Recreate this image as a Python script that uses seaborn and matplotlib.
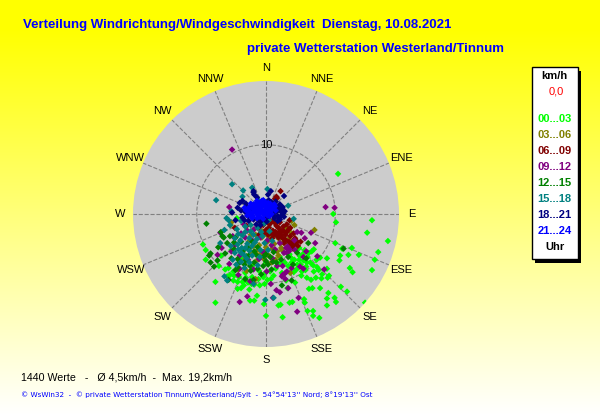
"""
Windrose scatter: Windrichtung/Windgeschwindigkeit, 10.08.2021
"""

import matplotlib

matplotlib.use("Agg")
import matplotlib.pyplot as plt
import seaborn as sns
import numpy as np
import pandas as pd

directions = ["N", "NNE", "NE", "ENE", "E", "ESE", "SE", "SSE",
              "S", "SSW", "SW", "WSW", "W", "WNW", "NW", "NNW"]
hour_labels = ["00...03", "03...06", "06...09", "09...12",
               "12...15", "15...18", "18...21", "21...24"]
hour_colors = ["#00ff00", "#808000", "#800000", "#800080",
               "#008000", "#008080", "#000080", "#0000ff"]

# Wind vectors in km/h: (toward east, toward north)
h00_03 = [(10.4,5.8),(9.7,0),(10.1,-1.2),(15.3,-.9),(14.6,-2.7),(17.6,-3.9),(10,-4.2),(12.4,-4.9),
          (16.2,-5.5),(13.4,-5.9),(11.9,-5.9),(10.7,-6),(11,-5),(10.6,-6.7),(15.7,-6.6),(15.3,-8.1),
          (12.1,-7.8),(12.5,-8.4),(10.8,-10.5),(11.7,-11.2),(14.3,-12.8),(9.9,-12.1),(10.1,-12.7),
          (8.8,-12.2),(8.8,-13.2),(9,-11.4),(7.8,-10.7),(6.7,-10.7),(6.2,-10.8),(7.7,-15),(6.8,-14.7),
          (6.8,-14),(6,-14),(5.5,-12.3),(5.6,-12.8),(3.8,-12.7),(3.4,-12.8),(2.1,-13.1),(1.8,-13.2),
          (2.4,-14.9),(0,-14.7),(-.3,-13),(-7.3,-12.8),(-7.3,-9.8),(-9.1,-4.4),(-8.7,-5.2),(-8.7,-6.6),
          (-4.1,-10.8),(-3.6,-10.7),(-4.7,-9.6),(-4.1,-9.8),(-3.4,-9.8),(-5.9,-8),(-4.7,-8.3),
          (-2.3,-12.5),(-1.7,-12.5),(-1.3,-11.8),(-2.4,-10.9),(-1.7,-10.2),(-.4,-9.1),(1.1,-8.9),(.2,-9.5),
          (8.8,-6.4),(7.8,-6.3),(7.4,-7.7),(7.6,-8.1),(8.1,-8.7),(7.2,-9.2),(8,-9.3),(8.9,-9.2),(9.1,-8.9),
          (8.8,-7.9),(6.5,-9.5),(5.7,-8.1),(5.2,-8.3),(6.4,-7),(5.9,-7),(6.6,-5.4),(6.2,-5.6),(5.6,-5.2),
          (4.4,-5.3),(4.9,-6.1),(5.4,-6.7),(3.7,-7),(4.4,-8),(4,-8.4),(3.2,-7.5),(6.9,-5.1),(6,-6.2),
          (5,-7.3),(4.5,-7.3),(5.8,-7.6),(2.9,-9.6),(2.3,-8.5),(1.4,-7.9),(-2,-9.1),(-3,-8.5),(-1,-8.2),
          (4.2,-9.9),(3.1,-10.7),(6.9,-8.3),(-6.5,-6),(-5,-5.2),(-3.5,-6.5),(-6.8,-7.5),(-2,-7.5),
          (0,-7),(1,-6.5),(2,-6.2),(-5.6,-9),(-2.9,-9.2),(.6,-8.3),(3.4,-5.8),(4.8,-4.9),(-4.2,-.6),
          (-5.4,-7.8),(-3.9,-9.1),(-2.6,-9.9),(-1.1,-9.4),(-.2,-8.6),(1.9,-7.2),(2.7,-7),(3.6,-6.3),
          (4.1,-6.6),(4.8,-6.6),(5.3,-5.8),(5.1,-8.9),(5.9,-9.2),(6.8,-7.4),(7.3,-6.6),
          (-4.6,-8.9),(-3.2,-10.3),(-2.1,-10.1),(-.9,-10.3),(-.2,-10.1),(.7,-9.4),(-5.2,-8.8)]
h03_06 = [(7,-2.3),(4.1,-1.6),(3.7,-1),(3.6,-2.7),(3.5,-8.5),(-5,-1.2),(-5.1,-1.6),(-1.5,-3),(-.5,-2.5),
          (.5,-3.5),(1.5,-2.8),(2.5,-3.3),(3,-2),(-2.5,-4),(-1,-4.5),(0,-4.8),(1.2,-4.3),(2.2,-4.9),
          (3.2,-4.2),(-3.5,-5),(-2,-5.6),(-.8,-5.8),(.4,-6),(1.8,-6),(-3,-6.5),(-1.4,-6.8),(.8,-7),
          (-4,-8),(-2.8,-8.2),(-1.5,-9.4),(-1.8,-10),(2.3,-5.2),(3.3,-3.6),(-1.2,-5.2),(-2.2,-3),
          (-.6,-3.4),(.2,-4),(.9,-5),(1.6,-5.4),(-.2,-5.4),(2.7,-4),(1.9,-3.6),(-1.8,-4.6),(-.4,-6.4),
          (1.4,-6.6),(.1,-3),(1.1,-3.2),(2.1,-4.2),(-2.6,-4.8)]
h06_09 = [(2.1,3.3),(1.5,2.5),(1.3,2.2),(1.6,2.3),(-4.5,-2),(0,-1),(-.4,-1.6),(.5,-1.5),(1,-1),(-1,-2),
          (0,-2.3),(1,-2.4),(1.5,-1.7),(2,-1.2),(2.5,-1.8),(3,-1.5),(3.3,-2.2),(1.5,-3),(2.2,-3),(2.8,-3),
          (3.5,-3.2),(4,-2.8),(4.2,-3.5),(3.3,-4),(3.7,-4.4),(4.5,-4),(5,-4),(3.9,-5),(2.6,-2.5),(2,-2.5),
          (-1,-3),(.3,-3),(2.8,-3.7),(4.6,-4.6),(3.4,-.9),(3.5,-2),(-2.8,-1.7),(1.8,-2),(3,-2.6),(.9,-3.5),
          (-.2,-.8),(.3,-.6),(.7,-1.2),(-.7,-1.2),(1.3,-1.3),(1.8,-2.9),(1.4,-2.6),(1.1,-3),(2.4,-3.5),
          (1.8,-3.4),(2.3,-2.4),(.4,-2),(-.3,-2.8),(3.9,-3.9),(4.1,-4.4),(3.5,-4.6),(.6,-2.8),(2.6,-4.2)]
h09_12 = [(-4.9,9.3),(8.6,1),(9.9,.9),(-5.3,1),(-6.6,-2.7),(-7,-5.9),(-6.4,-4.9),(7.1,-4.2),(5.6,-3.5),
          (5.1,-2.7),(4.5,-2.6),(6.5,-2.7),(7.4,-6.1),(8.4,-8),(5.4,-6.2),(-3.8,-12.7),(-2.7,-11.9),
          (4.5,-14.1),(4.7,-12.1),(1,-12.1),(1.5,-11),(2,-11.3),(3.2,-10.7),(.7,-10.1),(2.3,-9),(2.8,-9.4),
          (-4,-8.8),(-2.3,-9.7),(3,-5.6),(-3.2,-1.5),(-3.6,-2.8),(-4.8,-3.2),(-2,-3.8),(-.8,-3.4),(.8,-4.5),
          (2,-4.2),(3.1,-4.7),(4.2,-5.2),(-5,-5.4),(-3.8,-6),(-2.6,-6.6),(-1,-6.5),(.9,-6.4),(2.4,-7.5),
          (3.7,-7.8),(4.9,-7.6),(-5.3,-7.2),(-3.8,-7.9),(-1.8,-8),(.1,-8.3),(1.6,-7.5),(3,-8.3),(-4.5,-4.5),
          (5.8,-5.4),(4.1,-3.8),(3.4,-5.1),(2.6,-5.6),(5.4,-7.9),(2.9,-4.9),(3.3,-5.4),(2.4,-8.8),(2.7,-8.6),
          (-1.7,-2.2),(-2.7,-2.4),(.2,-3.8),(-.4,-5.5),(-3,-3.4),(1.3,-5.1)]
h12_15 = [(-8.6,-1.4),(11.2,-5),(6.1,-4.2),(-8,-5.7),(-8.2,-6),(-7.5,-7.6),(-8,-7),(-7,-6.7),(-6.9,-4.8),
          (-5.9,-5.7),(-5.4,-9.5),(-3,-9.4),(-4.4,-8.1),(-1.8,-9.5),(2.3,-10.3),(3.7,-9.6),(5.8,-6.4),
          (3.9,-7.3),(.8,-8),(-.4,-7.5),(-2.8,-6.1),(-5.2,-3.2),(-6.1,-3.4),(-6.3,-3.2),(-5.6,-4.2),(-4.6,-5.1),
          (-3.6,-4),(-2.5,-5),(-1.2,-4.8),(0,-5.8),(1.1,-5.5),(2.2,-6.6),(-4.1,-6.5),(-3.1,-7.3),(-1.7,-7),
          (0,-6.8),(1.5,-7),(-5,-6.4),(-2.2,-8.2),(-.7,-8.7),(.6,-6.2),(-3.4,-5.6),(-4.4,-3.4),(-2,-4),
          (4.5,-5.6),(3.2,-6.2),(-6.5,-2.6),(-1.4,-5.9),(-3.8,-7),(-2.9,-6.7),(-2.3,-7.5),(-1.2,-7.9),(-.3,-6.1),
          (.3,-7.3),(1,-6.9),(-3.2,-5.2),(-4.6,-4.1),(-2.5,-6),(-1.7,-5.4),(-4.1,-7.7)]
h15_18 = [(-4.9,4.3),(-7.2,2),(-3.3,3.4),(-3.4,2.5),(-2,3.8),(.2,3.6),(3.2,1.2),(4,-.7),(-5.7,-.6),(-5.4,-.9),
          (-6,-2.3),(-6.6,-4.2),(-6,-9),(-5.6,-9.6),(-.1,-12.4),(1.1,-12.1),(-1.8,-10.1),(-3.6,-1),(-3,-1.8),
          (-4.2,-2.2),(-2.2,-2.5),(-1.2,-2),(-.5,-3.2),(.5,-2.5),(-4.5,-3.5),(-3.4,-3.1),(-2.4,-3.5),(-1.3,-3.6),
          (-.2,-4.2),(.9,-3.9),(-5.1,-4.6),(-4.1,-4.4),(-3,-4.9),(-2,-4.6),(-.8,-5.2),(.3,-5.2),(-4.5,-5.6),
          (-3.2,-5.9),(-2,-6),(-.9,-6.2),(-4.8,-6.6),(-3.6,-6.9),(-2.4,-7),(-1.2,-7.4),(-4.3,-7.3),(-5.2,-1.6),
          (-.3,-1.4),(.4,-.9),(1.5,.9),(-1.1,2),(-5,.4),(-3.1,-7.8),(-4,-2.9),(-3,-2.6),(-3.7,-3.8),(-2.7,-4.3),
          (-3.5,-4.9),(-2.4,-5.3),(-4,-5.1),(-3.6,-5.6),(-2.8,-6.4),(-1.6,-4.1),(-.7,-2.6),(-1.8,-3),(-2.2,-1.6)]
h18_21 = [(.7,3.3),(2.6,2.6),(.3,2.8),(-1.8,3.3),(-1.7,2.8),(-1.8,3.1),(-3.8,1.6),(-4.1,.9),(-4.9,.2),(-2.8,1.1),
          (-3,.3),(-2.6,-.3),(1.5,1.1),(2.5,.1),(2,-.8),(1.4,.3),(2.3,.8),(1.7,-.3),(2.6,-.4),(.8,1.7),(1.4,1.8),
          (2,1.4),(-1.4,-1.5),(-1.8,-.8),(-.6,-.9),(.2,-.4),(1,-.2),(-3.4,1.9),(-2.2,.6),(-3.4,-.5),(-4.4,-.9),
          (-1.3,2.4),(2.7,.4),(2.1,.4),(1.2,.9),(-1,-1),(.4,2),(2.4,1),(1.9,.9),(1.6,.4),(2.2,-.3),(1.2,-.6),
          (.7,1.1),(-.2,1.5),(.9,.2),(-2.5,-1),(-3.1,-.9),(-2.9,1.5),(-3.6,.5),(-.8,-1.6),(.1,-1.1),(1.7,-1)]
h21_24 = [(-2.9,.5),(-2.4,1),(-2.2,.2),(-2.7,-.2),(-1.8,1.4),(-1.6,.6),(-1.3,1.9),(-1.2,1),(-1.4,.1),(-1.9,-.3),
          (-.8,1.6),(-.7,.9),(-.8,.2),(-.9,-.4),(-.2,1.8),(-.1,1.2),(-.2,.5),(-.3,-.1),(.3,1.6),(.4,1),(.3,.3),
          (.2,-.2),(.8,1.3),(.9,.7),(.8,0),(1.2,1.4),(-2,-.6),(-1.3,-.6),(-.4,-.7),(-3.1,.9),(-2.2,1.5),(-1.5,1.5),
          (1.4,.5),(-.4,2),(.6,.5),(-1,1.3),(-2.6,.6),(-2,.9),(-1.9,.2),(-1.1,.5),(-.5,1.3),(.1,.8),(.6,1.5),
          (1,1),(1.3,1.1),(-1.6,1.1),(-.5,.4),(0,.1),(.5,-.3),(-1.1,-.2),(-2.3,-.2),(-.6,1.9),(.7,.9)]
hour_points = [h00_03, h03_06, h06_09, h09_12, h12_15, h15_18, h18_21, h21_24]

ring_kmh = 10
max_kmh = 19.2

rows = []
for label, points in zip(hour_labels, hour_points):
    for east, north in points:
        rows.append((label, east, north))
df = pd.DataFrame(rows, columns=["hours", "east", "north"])
df["theta"] = np.arctan2(df["east"], df["north"])
df["speed"] = np.hypot(df["east"], df["north"])

fig = plt.figure(figsize=(6.0, 4.15), dpi=100)
plt.rcParams["font.family"] = ["Liberation Sans", "DejaVu Sans"]

# Full-figure layer in pixel coordinates: gradient background and all loose text
bg = fig.add_axes([0, 0, 1, 1])
blue = np.clip((np.linspace(0, 415, 415) - 30) / 385, 0, 1)
gradient = np.ones((415, 1, 3))
gradient[:, 0, 2] = blue
bg.imshow(gradient, extent=(0, 600, 415, 0), aspect="auto")
bg.set_xlim(0, 600)
bg.set_ylim(415, 0)
bg.axis("off")

title_style = dict(color="#0000ff", fontweight="bold", fontsize=9.5, va="center")
bg.text(23, 25, "Verteilung Windrichtung/Windgeschwindigkeit  Dienstag, 10.08.2021", **title_style)
bg.text(247, 49, "private Wetterstation Westerland/Tinnum", **title_style)
bg.text(21, 377, "1440 Werte   -   Ø 4,5km/h  -  Max. 19,2km/h", fontsize=7.7, color="black", va="center")
bg.text(21, 394.5, "© WsWin32  -  © private Wetterstation Tinnum/Westerland/Sylt  -  54°54'13'' Nord; 8°19'13'' Ost",
        fontsize=5.25, color="#0000ff", va="center", family=["DejaVu Sans"])

# Legend box with shadow
bg.add_patch(plt.Rectangle((535, 71), 46, 192, facecolor="black", edgecolor="none"))
bg.add_patch(plt.Rectangle((531.5, 67), 46, 192, facecolor="white", edgecolor="black", linewidth=1))
bg.text(554.5, 76, "km/h", ha="center", va="center", fontweight="bold", fontsize=8)
bg.text(556, 92, "0,0", ha="center", va="center", color="#ff0000", fontsize=8)
legend_y = 119
for label, color in zip(hour_labels, hour_colors):
    bg.text(554.5, legend_y, label, ha="center", va="center", color=color, fontweight="bold", fontsize=8)
    legend_y += 16
bg.text(554.5, 247, "Uhr", ha="center", va="center", fontweight="bold", fontsize=8)

# Polar plot
ax = fig.add_axes([133 / 600, 68 / 415, 266 / 600, 266 / 415], projection="polar")
ax.set_theta_zero_location("N")
ax.set_theta_direction(-1)
ax.set_facecolor("#cccccc")
ax.set_rlim(0, max_kmh)
ax.set_xticks(np.deg2rad(np.arange(0, 360, 22.5)))
ax.set_xticklabels(directions, fontsize=8)
ax.tick_params(axis="x", pad=-1)
ax.set_yticks([ring_kmh])
ax.set_yticklabels([])
ax.grid(True, color="#808080", linestyle="--", linewidth=0.8)
ax.set_axisbelow(True)
ax.spines["polar"].set_visible(False)

sns.scatterplot(
    data=df,
    x="theta",
    y="speed",
    hue="hours",
    hue_order=hour_labels,
    palette=hour_colors,
    marker="D",
    s=11,
    linewidth=0,
    legend=False,
    ax=ax,
)
ax.text(0, ring_kmh, str(ring_kmh), ha="center", va="center", fontsize=8)
ax.set_xlabel("")
ax.set_ylabel("")

fig.savefig("out.png", dpi=100)
